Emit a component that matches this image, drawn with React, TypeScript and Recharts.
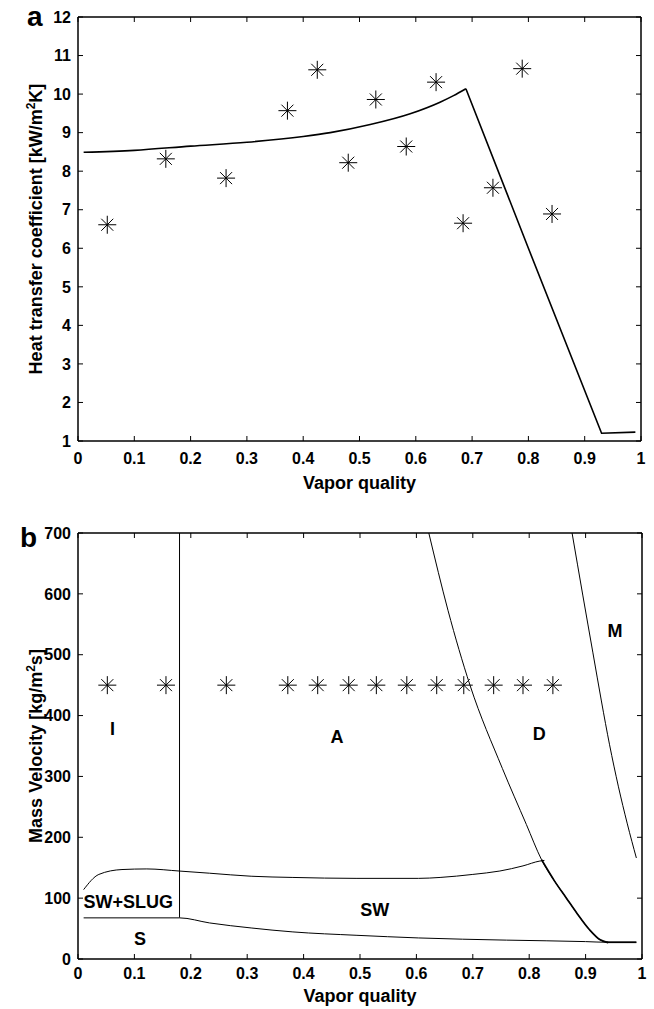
import React from 'react';
import { ComposedChart, Line, Scatter, XAxis, YAxis } from 'recharts';

const FONT = '"Liberation Sans", Arial, Helvetica, sans-serif';

// axis ticks
const qualityTicks = [0, 0.1, 0.2, 0.3, 0.4, 0.5, 0.6, 0.7, 0.8, 0.9, 1];
const htcTicks = [1, 2, 3, 4, 5, 6, 7, 8, 9, 10, 11, 12];
const massTicks = [0, 100, 200, 300, 400, 500, 600, 700];

// test points: vapor quality, measured HTC (kW/m2K), mass velocity (kg/m2s)
const testQuality = [0.052, 0.156, 0.263, 0.372, 0.425, 0.48, 0.529, 0.583, 0.636, 0.684, 0.737, 0.789, 0.842];
const htcMeasured = [6.61, 8.32, 7.82, 9.57, 10.63, 8.22, 9.86, 8.64, 10.31, 6.65, 7.57, 10.66, 6.89];
const testMassVelocity = [450, 450, 450, 450, 450, 450, 450, 450, 450, 450, 450, 450, 450];

// predicted HTC, rising part up to dryout, then falling part
const predQualityRise = [0.01, 0.1, 0.2, 0.3, 0.4, 0.448, 0.519, 0.59, 0.643, 0.667, 0.689];
const predHtcRise = [8.49, 8.54, 8.65, 8.75, 8.9, 9.0, 9.21, 9.49, 9.79, 9.96, 10.14];
const predQualityFall = [0.689, 0.8, 0.93, 0.99];
const predHtcFall = [10.14, 6.0, 1.2, 1.23];

// flow pattern map boundaries
const slugQ = [0.18, 0.18];
const slugG = [68, 700];
const stratQ = [0.01, 0.18, 0.233, 0.307, 0.381, 0.493, 0.604, 0.76, 0.9, 0.937, 0.99];
const stratG = [67.6, 67.6, 59.3, 51, 44.5, 39, 34.6, 31, 28.6, 27.5, 27.5];
const wavyQ = [0.01, 0.037, 0.078, 0.122, 0.18, 0.233, 0.307, 0.381, 0.493, 0.604, 0.642, 0.7, 0.748, 0.789, 0.819, 0.827];
const wavyG = [114, 139, 147, 148, 144.5, 141, 136, 134, 132.5, 132.5, 134, 139, 144.6, 153, 161, 162];
const dryoutQ = [0.622, 0.656, 0.695, 0.7525, 0.795, 0.822, 0.845, 0.866, 0.884, 0.907, 0.925, 0.94];
const dryoutG = [700, 573, 450, 313, 221, 163, 128, 100, 76, 48, 32, 27];
const mistQ = [0.876, 0.895, 0.913, 0.928, 0.9425, 0.958, 0.974, 0.99];
const mistG = [700, 598, 503, 424, 352, 284, 222, 166];

// region names
const regionNames = ['I', 'A', 'D', 'M', 'SW+SLUG', 'SW', 'S'];
const regionQ = [0.061, 0.459, 0.818, 0.952, 0.089, 0.526, 0.11];
const regionG = [378, 365, 371, 540, 93.7, 82, 33.7];

const zip = (xs: number[], ys: number[]) => xs.map((x, i) => ({ x, y: ys[i] }));

const axisStroke = { stroke: '#000', strokeWidth: 1.5 };
const TICK_LEN = 5;

// MATLAB style ticks: drawn inwards, label outside
const InTick = (props: any) => {
  const { x, y, payload, side, gap } = props;
  const label = side === 'bottom' || side === 'left' ? String(payload.value) : '';
  let line = null;
  let text = null;
  if (side === 'bottom') {
    line = <line x1={x} y1={y} x2={x} y2={y - TICK_LEN} stroke="#000" />;
    text = <text x={x} y={y + gap} dy="0.71em" textAnchor="middle">{label}</text>;
  } else if (side === 'top') {
    line = <line x1={x} y1={y} x2={x} y2={y + TICK_LEN} stroke="#000" />;
  } else if (side === 'left') {
    line = <line x1={x} y1={y} x2={x + TICK_LEN} y2={y} stroke="#000" />;
    text = <text x={x - gap} y={y} dy="0.36em" textAnchor="end">{label}</text>;
  } else {
    line = <line x1={x} y1={y} x2={x - TICK_LEN} y2={y} stroke="#000" />;
  }
  return (
    <g fontSize={16} fontWeight="bold" fontFamily={FONT} fill="#000">
      {line}
      {text}
    </g>
  );
};

const Asterisk = (props: any) => {
  const { cx, cy } = props;
  if (cx == null || cy == null) return null;
  const a = 9;
  const d = 6;
  return (
    <path
      d={`M${cx - a},${cy}H${cx + a}M${cx},${cy - a}V${cy + a}M${cx - d},${cy - d}L${cx + d},${cy + d}M${cx - d},${cy + d}L${cx + d},${cy - d}`}
      stroke="#000"
      strokeWidth={1}
      fill="none"
    />
  );
};

const RegionLabel = (props: any) => (
  <text x={props.cx} y={props.cy} dy="0.36em" textAnchor="middle" fontSize={18} fontWeight="bold" fontFamily={FONT} fill="#000">
    {props.payload.name}
  </text>
);

const XTitle = (props: any) => {
  const vb = props.viewBox || {};
  return (
    <text x={vb.x + vb.width / 2} y={vb.y + props.gap} textAnchor="middle" fontSize={18} fontWeight="bold" fontFamily={FONT} fill="#000">
      Vapor quality
    </text>
  );
};

const YTitle = (props: any) => {
  const vb = props.viewBox || {};
  const x = 42;
  const y = vb.y + vb.height / 2;
  return (
    <text x={x} y={y} transform={`rotate(-90 ${x} ${y})`} textAnchor="middle" fontSize={18} fontWeight="bold" fontFamily={FONT} fill="#000">
      {props.before}
      <tspan fontSize={12} dy={-7}>2</tspan>
      <tspan dy={7}>{props.after}</tspan>
    </text>
  );
};

const lineProps = { dataKey: 'y', stroke: '#000', dot: false, activeDot: false, isAnimationActive: false } as const;

// box axes (top and right) with inward ticks, no labels
function boxAxes(yDomain: number[], yTicks: number[]) {
  return [
    <XAxis key="top" xAxisId="top" orientation="top" type="number" dataKey="x" domain={[0, 1]} ticks={qualityTicks} interval={0} height={1}
      tickSize={0} tickMargin={0} tick={<InTick side="top" />} tickLine={false} axisLine={axisStroke} allowDataOverflow />,
    <YAxis key="right" yAxisId="right" orientation="right" type="number" dataKey="y" domain={yDomain} ticks={yTicks} interval={0} width={1}
      tickSize={0} tickMargin={0} tick={<InTick side="right" />} tickLine={false} axisLine={axisStroke} allowDataOverflow />,
  ];
}

export default function App() {
  const testHtc = zip(testQuality, htcMeasured);
  const testMap = zip(testQuality, testMassVelocity);
  const regions = regionNames.map((name, i) => ({ x: regionQ[i], y: regionG[i], name }));
  // below the SW junction the boundaries coincide, which makes the line heavier
  const mergedDryout = zip(dryoutQ, dryoutG).filter((p) => p.x >= 0.822);
  const mergedTail = zip(stratQ, stratG).filter((p) => p.x >= 0.937);

  return (
    <div style={{ position: 'absolute', left: 0, top: 0, width: 654, height: 1009, background: '#fff' }}>
      <div style={{ position: 'absolute', left: 0, top: 0 }}>
        <ComposedChart width={654} height={500} margin={{ top: 16, right: 12, bottom: 0, left: 0 }}>
          <XAxis type="number" dataKey="x" domain={[0, 1]} ticks={qualityTicks} interval={0} height={59} tickSize={0} tickMargin={0}
            tick={<InTick side="bottom" gap={12} />} tickLine={false} axisLine={axisStroke} allowDataOverflow label={<XTitle gap={48} />} />
          <YAxis type="number" dataKey="y" domain={[1, 12]} ticks={htcTicks} interval={0} width={78} tickSize={0} tickMargin={0}
            tick={<InTick side="left" gap={7} />} tickLine={false} axisLine={axisStroke} allowDataOverflow
            label={<YTitle before="Heat transfer coefficient [kW/m" after="K]" />} />
          {boxAxes([1, 12], htcTicks)}
          <Line {...lineProps} data={zip(predQualityRise, predHtcRise)} type="monotone" strokeWidth={1.6} />
          <Line {...lineProps} data={zip(predQualityFall, predHtcFall)} type="linear" strokeWidth={1.6} />
          <Scatter data={testHtc} dataKey="y" xAxisId="top" yAxisId="right" shape={<Asterisk />} isAnimationActive={false} />
        </ComposedChart>
      </div>

      <div style={{ position: 'absolute', left: 0, top: 500 }}>
        <ComposedChart width={654} height={509} margin={{ top: 32, right: 11, bottom: 0, left: 0 }}>
          <XAxis type="number" dataKey="x" domain={[0, 1]} ticks={qualityTicks} interval={0} height={50} tickSize={0} tickMargin={0}
            tick={<InTick side="bottom" gap={9} />} tickLine={false} axisLine={axisStroke} allowDataOverflow label={<XTitle gap={43} />} />
          <YAxis type="number" dataKey="y" domain={[0, 700]} ticks={massTicks} interval={0} width={78} tickSize={0} tickMargin={0}
            tick={<InTick side="left" gap={7} />} tickLine={false} axisLine={axisStroke} allowDataOverflow
            label={<YTitle before="Mass Velocity [kg/m" after="s]" />} />
          {boxAxes([0, 700], massTicks)}
          <Line {...lineProps} data={zip(slugQ, slugG)} type="linear" strokeWidth={1} />
          <Line {...lineProps} data={zip(stratQ, stratG)} type="monotone" strokeWidth={1} />
          <Line {...lineProps} data={zip(wavyQ, wavyG)} type="monotone" strokeWidth={1} />
          <Line {...lineProps} data={zip(dryoutQ, dryoutG)} type="monotone" strokeWidth={1} />
          <Line {...lineProps} data={mergedDryout} type="monotone" strokeWidth={1.7} />
          <Line {...lineProps} data={mergedTail} type="linear" strokeWidth={1.7} />
          <Line {...lineProps} data={zip(mistQ, mistG)} type="monotone" strokeWidth={1} />
          <Scatter data={testMap} dataKey="y" xAxisId="top" yAxisId="right" shape={<Asterisk />} isAnimationActive={false} />
          <Scatter data={regions} dataKey="y" shape={<RegionLabel />} isAnimationActive={false} />
        </ComposedChart>
      </div>

      <svg width={654} height={1009} style={{ position: 'absolute', left: 0, top: 0, pointerEvents: 'none' }}>
        <text x={27} y={26} fontSize={28} fontWeight="bold" fontFamily={FONT}>a</text>
        <text x={20} y={547} fontSize={28} fontWeight="bold" fontFamily={FONT}>b</text>
      </svg>
    </div>
  );
}
